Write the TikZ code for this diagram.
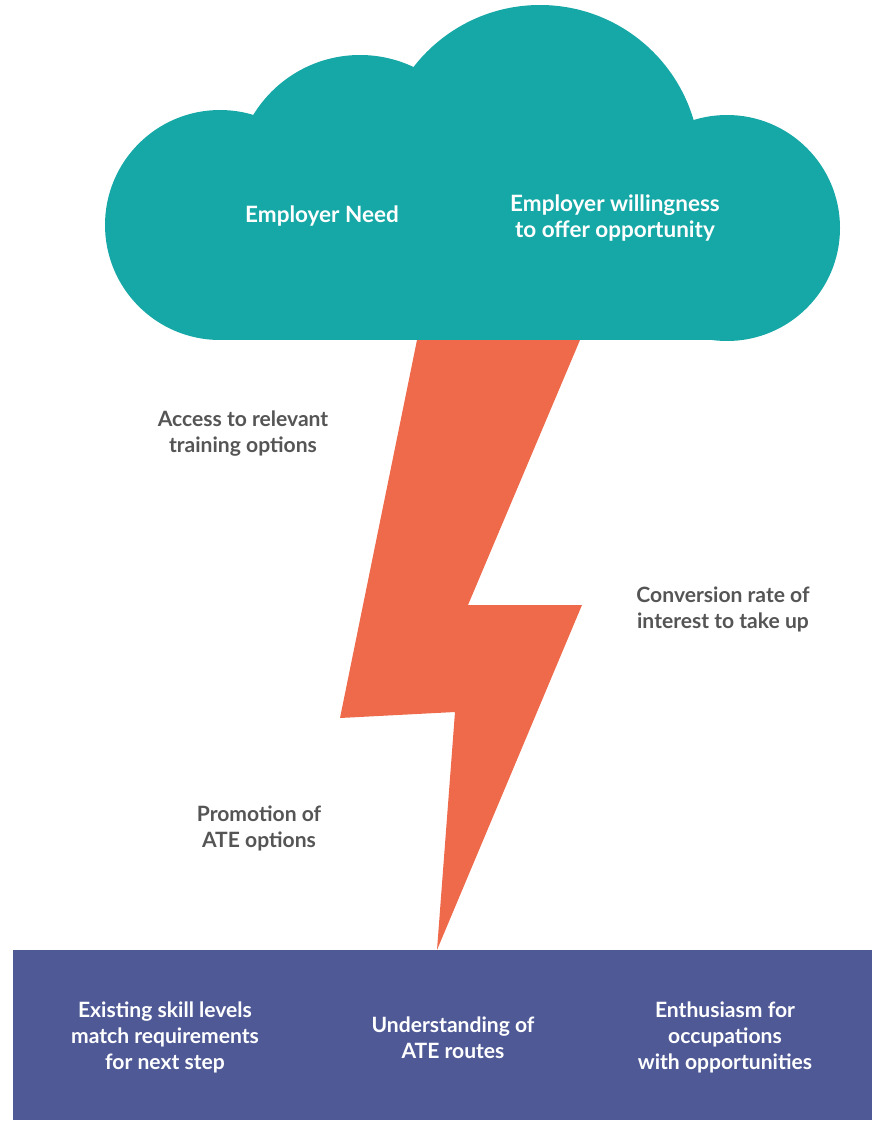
\documentclass[tikz,border=0pt]{standalone}
\usepackage{fontspec}
\setmainfont{Lato}
\usepackage{tikz}

\definecolor{cloudteal}{RGB}{21,168,166}
\definecolor{boltorange}{RGB}{238,106,75}
\definecolor{basenavy}{RGB}{79,89,150}
\definecolor{labelgrey}{RGB}{85,85,85}

\tikzset{
  cloudtext/.style={text=white, align=center, font=\fontsize{16}{19}\selectfont\bfseries},
  whitetext/.style={text=white, align=center, font=\fontsize{15}{18.5}\selectfont\bfseries},
  greytext/.style={text=labelgrey, align=center, font=\fontsize{15}{18.5}\selectfont\bfseries}
}

\begin{document}
\begin{tikzpicture}[x=0.025cm, y=-0.025cm]
    \useasboundingbox (0,0) rectangle (872,1125);

    % Wolke
    \fill[cloudteal] (220,225) circle (115);
    \fill[cloudteal] (360,180) circle (125);
    \fill[cloudteal] (540,165) circle (160);
    \fill[cloudteal] (727,228) circle (113);
    \fill[cloudteal] (220,200) rectangle (727,340);

    % Blitz
    \fill[boltorange] (417,340) -- (580,340) -- (468,605) -- (582,605)
        -- (437,950) -- (455,712) -- (340,718) -- cycle;

    % Basis
    \fill[basenavy] (13,950) rectangle (872,1120);

    % Texte in der Wolke
    \node[cloudtext] (need) at (322,216) {Employer Need};
    \node[cloudtext] (willing) at (615,218) {Employer willingness\\to offer opportunity};

    % Texte neben dem Blitz
    \node[greytext] (access) at (243,434) {Access to relevant\\training options};
    \node[greytext] (convert) at (723,609) {Conversion rate of\\interest to take up};
    \node[greytext] (promo) at (259,828) {Promotion of\\ATE options};

    % Texte in der Basis
    \node[whitetext] (skill) at (165,1037) {Existing skill levels\\match requirements\\for next step};
    \node[whitetext] (routes) at (453,1038) {Understanding of\\ATE routes};
    \node[whitetext] (enthus) at (725,1037) {Enthusiasm for\\occupations\\with opportunities};
\end{tikzpicture}
\end{document}
